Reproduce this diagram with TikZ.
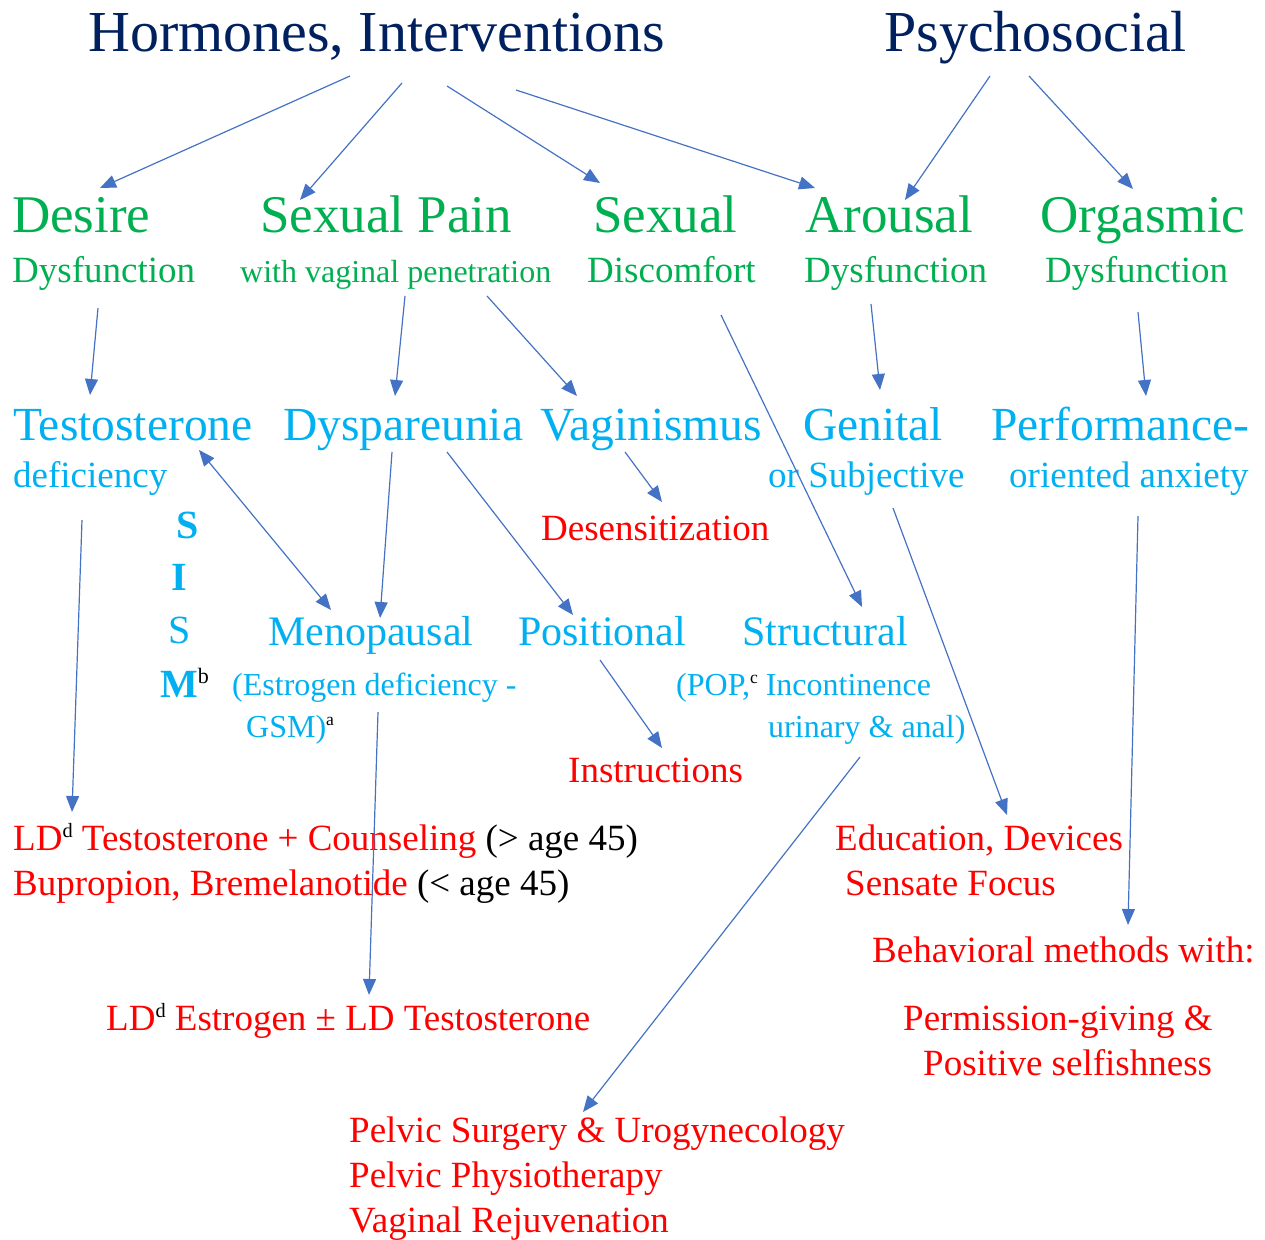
\documentclass[tikz,border=0pt]{standalone}
\usepackage{fontspec}
\setmainfont{Liberation Serif}
\usetikzlibrary{arrows.meta}
\definecolor{navy}{HTML}{002060}
\definecolor{grn}{HTML}{00B050}
\definecolor{cyn}{HTML}{00B0F0}
\definecolor{arrowblue}{HTML}{4472C4}
\newcommand{\fs}[1]{\fontsize{#1}{#1}\selectfont}
\newcommand{\sups}[1]{{\color{black}\raisebox{0.75ex}{\scalebox{0.55}{#1}}}}

\begin{document}
\begin{tikzpicture}[x=1pt,y=1pt,
  every node/.style={anchor=base west,inner sep=0pt},
  head/.style={font=\fs{58},text=navy},
  kind/.style={font=\fs{53},text=grn},
  kindsub/.style={font=\fs{37},text=grn},
  cause/.style={font=\fs{47.5},text=cyn},
  causesub/.style={font=\fs{37},text=cyn},
  sub/.style={font=\fs{42},text=cyn},
  subnote/.style={font=\fs{32},text=cyn},
  treat/.style={font=\fs{37},text=red},
  arr/.style={draw=arrowblue,line width=1.2pt,-{Triangle[length=16pt,width=13pt]}}]
\useasboundingbox (0,0) rectangle (1265,-1239);

\node[head] (hormones) at (88,-52) {Hormones, Interventions};
\node[head] (psycho) at (884,-52) {Psychosocial};

\node[kind] (desire) at (12,-232) {Desire};
\node[kind] (pain) at (260,-232) {Sexual Pain};
\node[kind] (sexual) at (593,-232) {Sexual};
\node[kind] (arousal) at (805,-232) {Arousal};
\node[kind] (orgasmic) at (1040,-232) {Orgasmic};
\node[kindsub] (desiresub) at (12,-282) {Dysfunction};
\node[kindsub,font=\fs{32}] (painsub) at (240,-282) {with vaginal penetration};
\node[kindsub] (sexualsub) at (587,-282) {Discomfort};
\node[kindsub] (arousalsub) at (804,-282) {Dysfunction};
\node[kindsub] (orgasmicsub) at (1045,-282) {Dysfunction};

\node[cause] (testo) at (13,-440) {Testosterone};
\node[causesub] (testosub) at (13,-487) {deficiency};
\node[cause] (dysp) at (283,-440) {Dyspareunia};
\node[cause] (vagin) at (540,-440) {Vaginismus};
\node[cause] (genital) at (803,-440) {Genital};
\node[causesub] (genitalsub) at (768,-487) {or Subjective};
\node[cause] (perf) at (991,-440) {Performance-};
\node[causesub] (perfsub) at (1009,-487) {oriented anxiety};

\node[sub,font=\fs{40}\bfseries] (sisms) at (176,-538) {S};
\node[sub,font=\fs{40}\bfseries] (sismi) at (171,-590) {I};
\node[sub,font=\fs{40}] (sismss) at (168,-643) {S};
\node[sub,font=\fs{40}\bfseries] (sismm) at (160,-697) {M\sups{\mdseries b}};

\node[sub] (meno) at (268,-645) {Menopausal};
\node[subnote] (menosub) at (232,-695) {(Estrogen deficiency -};
\node[subnote] (menosubb) at (246,-737) {GSM)\sups{a}};
\node[sub] (posit) at (518,-645) {Positional};
\node[sub] (struct) at (742,-645) {Structural};
\node[subnote] (structsub) at (676,-695) {(POP,\sups{c} Incontinence};
\node[subnote] (structsubb) at (768,-737) {urinary \& anal)};

\node[treat] (desens) at (541,-540) {Desensitization};
\node[treat] (instr) at (568,-782) {Instructions};
\node[treat] (ldt) at (13,-850) {LD\sups{d} Testosterone + Counseling {\color{black}(> age 45)}};
\node[treat] (bupro) at (13,-895) {Bupropion, Bremelanotide {\color{black}(< age 45)}};
\node[treat] (edu) at (835,-850) {Education, Devices};
\node[treat] (sensate) at (845,-895) {Sensate Focus};
\node[treat] (behav) at (872,-962) {Behavioral methods with:};
\node[treat] (permis) at (903,-1030) {Permission-giving \&};
\node[treat] (selfish) at (923,-1075) {Positive selfishness};
\node[treat] (lde) at (106,-1030) {LD\sups{d} Estrogen ± LD Testosterone};
\node[treat] (pelvic) at (349,-1142) {Pelvic Surgery \& Urogynecology};
\node[treat] (physio) at (349,-1187) {Pelvic Physiotherapy};
\node[treat] (rejuv) at (349,-1232) {Vaginal Rejuvenation};

\draw[arr] ([shift={(262,-24)}]hormones.base west) -- ([shift={(88,44)}]desire.base west);
\draw[arr] ([shift={(314,-31)}]hormones.base west) -- ([shift={(40,32)}]pain.base west);
\draw[arr] ([shift={(359,-34)}]hormones.base west) -- ([shift={(7,49)}]sexual.base west);
\draw[arr] ([shift={(428,-38)}]hormones.base west) -- ([shift={(10,44)}]arousal.base west);
\draw[arr] ([shift={(106,-24)}]psycho.base west) -- ([shift={(100,32)}]arousal.base west);
\draw[arr] ([shift={(145,-24)}]psycho.base west) -- ([shift={(93,43)}]orgasmic.base west);

\draw[arr] ([shift={(86,-26)}]desiresub.base west) -- ([shift={(77,45)}]testo.base west);
\draw[arr] ([shift={(165,-14)}]painsub.base west) -- ([shift={(112,44)}]dysp.base west);
\draw[arr] ([shift={(247,-14)}]painsub.base west) -- ([shift={(37,44)}]vagin.base west);
\draw[arr] ([shift={(134,-33)}]sexualsub.base west) -- ([shift={(120,38)}]struct.base west);
\draw[arr] ([shift={(67,-22)}]arousalsub.base west) -- ([shift={(77,50)}]genital.base west);
\draw[arr] ([shift={(93,-30)}]orgasmicsub.base west) -- ([shift={(155,44)}]perf.base west);

\draw[arr] ([shift={(85,-12)}]vagin.base west) -- ([shift={(121,38)}]desens.base west);
\draw[arr,{Triangle[length=16pt,width=13pt]}-{Triangle[length=16pt,width=13pt]}] ([shift={(186,-10)}]testo.base west) -- ([shift={(63,35)}]meno.base west);
\draw[arr] ([shift={(109,-12)}]dysp.base west) -- ([shift={(112,27)}]meno.base west);
\draw[arr] ([shift={(164,-12)}]dysp.base west) -- ([shift={(55,30)}]posit.base west);
\draw[arr] ([shift={(69,-33)}]testosub.base west) -- ([shift={(59,38)}]ldt.base west);
\draw[arr] ([shift={(125,-21)}]genitalsub.base west) -- ([shift={(172,35)}]edu.base west);
\draw[arr] ([shift={(129,-29)}]perfsub.base west) -- ([shift={(256,37)}]behav.base west);
\draw[arr] ([shift={(82,-15)}]posit.base west) -- ([shift={(94,34)}]instr.base west);
\draw[arr] ([shift={(146,-17)}]menosub.base west) -- ([shift={(263,35)}]lde.base west);
\draw[arr] ([shift={(92,-20)}]structsubb.base west) -- ([shift={(234,30)}]pelvic.base west);
\end{tikzpicture}
\end{document}
